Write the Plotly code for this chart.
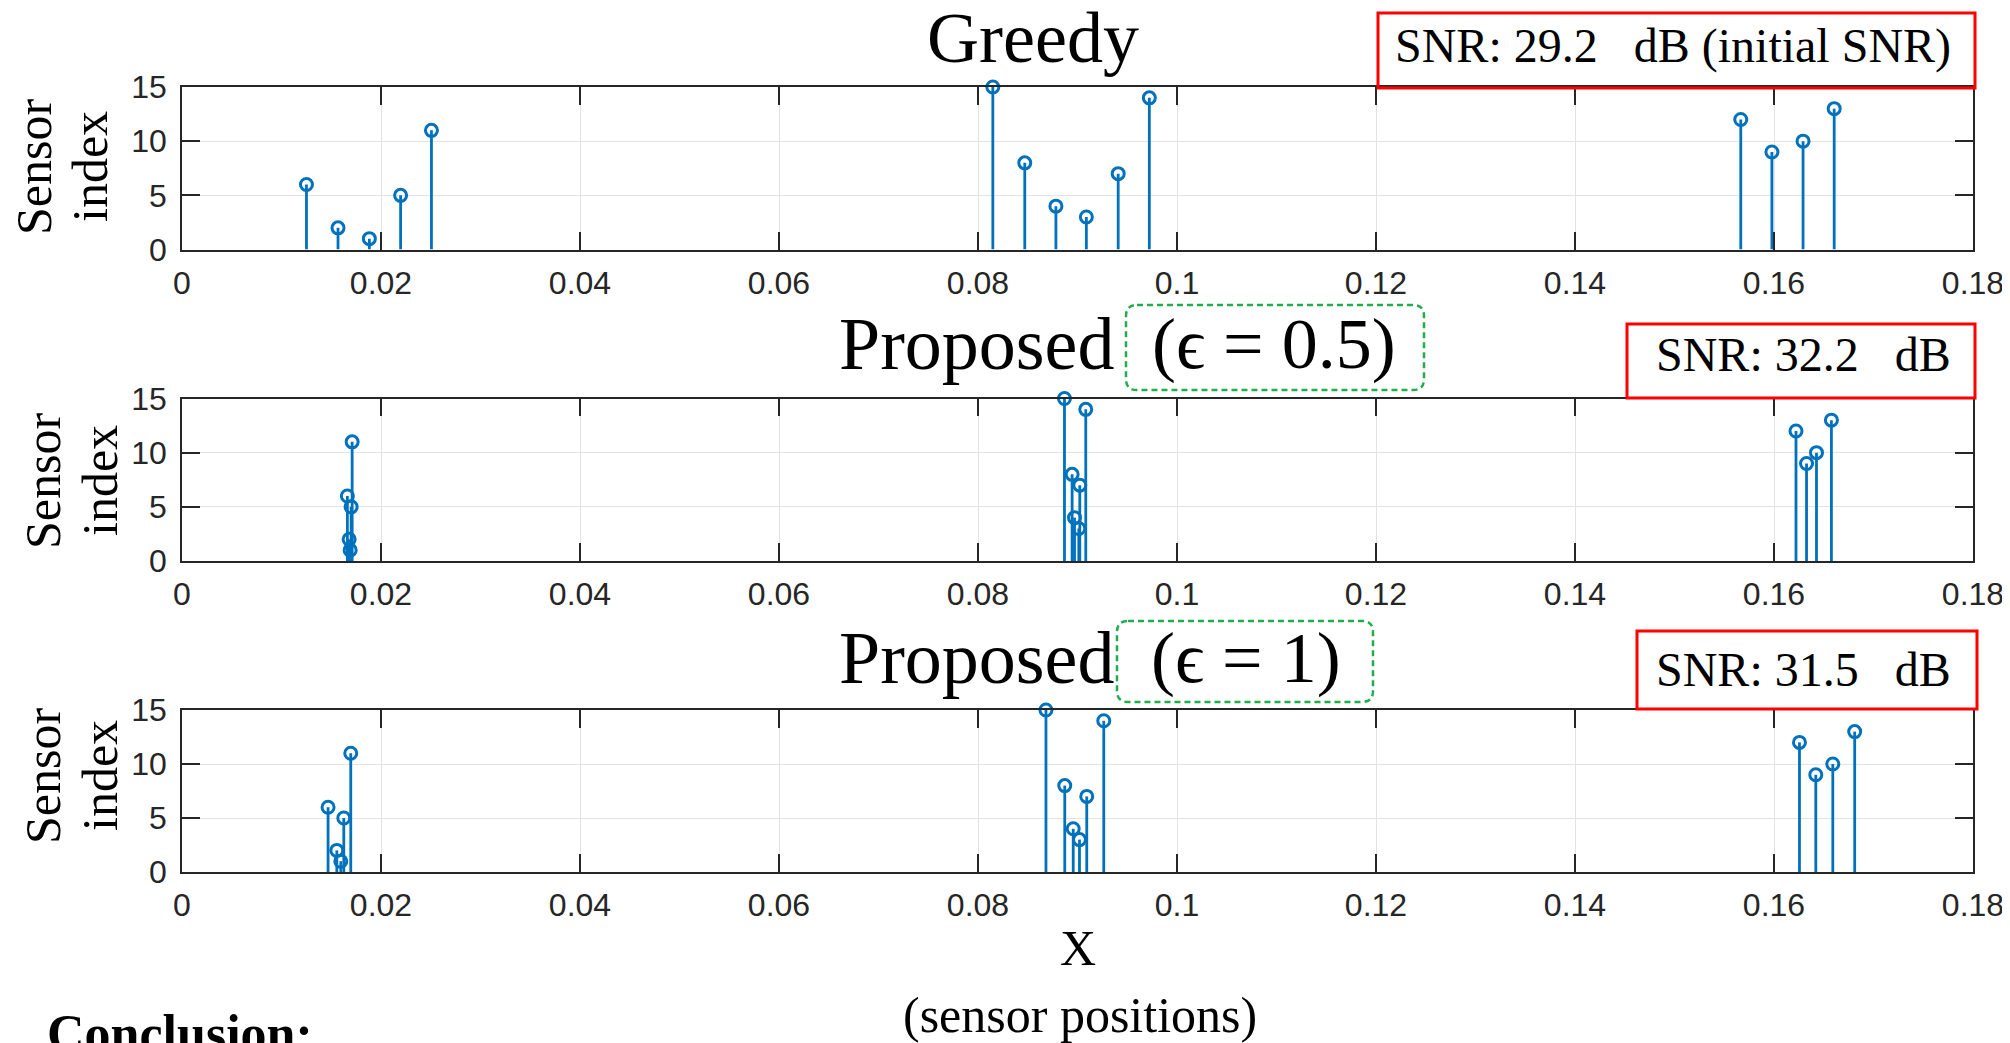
import plotly.graph_objects as go

W, H = 2010, 1043
OFF = 8  # default page body margin of the HTML page
FW, FH = W - OFF, H - OFF

# ---------------- data ----------------
sensor_index = [6, 2, 1, 5, 11, 15, 8, 4, 3, 7, 14, 12, 9, 10, 13]

greedy_x = [0.01251, 0.01568, 0.01883, 0.02197, 0.02507,
            0.08149, 0.08470, 0.08783, 0.09089, 0.09409, 0.09722,
            0.15666, 0.15979, 0.16292, 0.16605]
eps05_x = [0.01662, 0.01680, 0.01690, 0.01700, 0.01710,
           0.08869, 0.08946, 0.08970, 0.09013, 0.09023, 0.09083,
           0.16221, 0.16327, 0.16427, 0.16577]
eps1_x = [0.01468, 0.01556, 0.01596, 0.01626, 0.01696,
          0.08683, 0.08872, 0.08957, 0.09020, 0.09093, 0.09264,
          0.16256, 0.16420, 0.16591, 0.16811]

x_tickvals = [0, 0.02, 0.04, 0.06, 0.08, 0.10, 0.12, 0.14, 0.16, 0.18]
x_ticktext = ["0", "0.02", "0.04", "0.06", "0.08", "0.1", "0.12", "0.14", "0.16", "0.18"]
y_tickvals = [0, 5, 10, 15]
y_ticktext = ["0", "5", "10", "15"]

panel_titles = ["Greedy", "Proposed", "Proposed"]
eps_labels = [None, "(\u03f5 = 0.5)", "(\u03f5 = 1)"]
snr_labels = ["SNR: 29.2\u00a0\u00a0\u00a0dB (initial SNR)",
              "SNR: 32.2\u00a0\u00a0\u00a0dB",
              "SNR: 31.5\u00a0\u00a0\u00a0dB"]
series = [greedy_x, eps05_x, eps1_x]

# ---------------- layout helpers (page pixel -> paper) ----------------
def px(x):
    return (x - OFF) / FW

def py(y):
    return 1 - (y - OFF) / FH

BLUE = "#0072BD"
AX = "#262626"
SERIF = "Liberation Serif, Times New Roman, DejaVu Serif, serif"
SANS = "Liberation Sans, Arial, Helvetica, sans-serif"

x_left, x_right = 182, 1973
panels_px = [(87, 249.5), (398.5, 561), (710, 872)]

fig = go.Figure()

for i, xs in enumerate(series):
    sfx = "" if i == 0 else str(i + 1)
    fig.add_trace(go.Scatter(
        x=xs, y=sensor_index, mode="markers",
        xaxis="x" + sfx, yaxis="y" + sfx,
        marker=dict(symbol="circle-open", size=12, color=BLUE,
                    line=dict(width=3, color=BLUE)),
        error_y=dict(type="data", symmetric=False,
                     array=[0] * len(sensor_index), arrayminus=sensor_index,
                     thickness=2.8, width=0, color=BLUE),
        cliponaxis=False, showlegend=False, hoverinfo="x+y",
    ))

layout = dict(
    width=FW, height=FH,
    margin=dict(l=0, r=0, t=0, b=0, pad=0, autoexpand=False),
    paper_bgcolor="white", plot_bgcolor="white",
    showlegend=False,
)

axis_common = dict(
    showline=True, linecolor=AX, linewidth=1.5, mirror="ticks",
    ticks="inside", ticklen=18, tickwidth=1.5, tickcolor=AX,
    showgrid=True, gridcolor="#e3e3e3", gridwidth=1,
    zeroline=False, automargin=False,
    tickfont=dict(family=SANS, size=32, color=AX),
)

for i, (top, bot) in enumerate(panels_px):
    sfx = "" if i == 0 else str(i + 1)
    layout["xaxis" + sfx] = dict(
        axis_common, domain=[px(x_left), px(x_right)], range=[0, 0.18],
        tickvals=x_tickvals, ticktext=x_ticktext,
        anchor="y" + sfx, ticklabelstandoff=4,
    )
    layout["yaxis" + sfx] = dict(
        axis_common, domain=[py(bot), py(top)], range=[0, 15],
        tickvals=y_tickvals, ticktext=y_ticktext,
        anchor="x" + sfx, ticklabelstandoff=7,
    )

fig.update_layout(**layout)

annotations = []
shapes = []

def ann(text, x, y, size, xanchor="center", yanchor="middle", family=SERIF,
        angle=0, color="black"):
    annotations.append(dict(
        text=text, x=px(x), y=py(y), xref="paper", yref="paper",
        xanchor=xanchor, yanchor=yanchor, showarrow=False, textangle=angle,
        font=dict(family=family, size=size, color=color),
    ))

# titles
ann(panel_titles[0], 1033, 38, 72)
ann(panel_titles[1], 1116, 344, 74, xanchor="right")
ann(eps_labels[1], 1274, 344, 72)
ann(panel_titles[2], 1116, 658, 74, xanchor="right")
ann(eps_labels[2], 1246, 658, 72)

# SNR labels
ann(snr_labels[0], 1673, 46, 48)
ann(snr_labels[1], 1803, 354, 48)
ann(snr_labels[2], 1803, 669, 48)

# y labels (two separate rotated lines per panel)
for (cx1, cx2, cy) in [(34, 90, 167), (43, 100, 481), (43, 100, 776)]:
    ann("Sensor", cx1, cy, 50, angle=-90)
    ann("index", cx2, cy, 50, angle=-90)

# x label
ann("X", 1078, 948, 50)
ann("(sensor positions)", 1080, 1015, 50)

# conclusion
ann("<b>Conclusion:</b>", 45, 1003, 52, xanchor="left", yanchor="top")

# red boxes
for (x0, x1, y0, y1) in [(1378, 1975, 13, 88), (1627, 1975, 324, 398), (1637, 1977, 631, 709)]:
    shapes.append(dict(type="rect", xref="paper", yref="paper",
                       x0=px(x0), x1=px(x1), y0=py(y1), y1=py(y0),
                       line=dict(color="#ff0000", width=3), fillcolor="rgba(0,0,0,0)"))

# green rounded dashed boxes
def rounded(x0, x1, y0, y1, r=11):
    rx, ry = r / FW, r / FH
    X0, X1 = px(x0), px(x1)
    YT, YB = py(y0), py(y1)
    return (f"M {X0+rx},{YT} L {X1-rx},{YT} Q {X1},{YT} {X1},{YT-ry} "
            f"L {X1},{YB+ry} Q {X1},{YB} {X1-rx},{YB} "
            f"L {X0+rx},{YB} Q {X0},{YB} {X0},{YB+ry} "
            f"L {X0},{YT-ry} Q {X0},{YT} {X0+rx},{YT} Z")

for (x0, x1, y0, y1) in [(1126, 1424, 305, 390), (1117, 1373, 621, 702)]:
    shapes.append(dict(type="path", xref="paper", yref="paper",
                       path=rounded(x0, x1, y0, y1),
                       line=dict(color="#1fae4b", width=2.5, dash="6px,4px")))

fig.update_layout(annotations=annotations, shapes=shapes)

fig.write_html("out.html")
